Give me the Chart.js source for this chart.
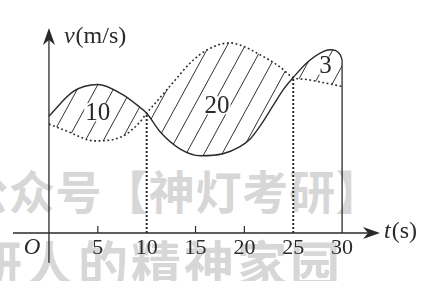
<!DOCTYPE html>
<html><head><meta charset="utf-8">
<script src="https://cdn.jsdelivr.net/npm/chart.js@4"></script>
<style>
html,body{margin:0;padding:0;background:#fff;}
#wrap{position:relative;width:421px;height:281px;overflow:hidden;background:#fff;}
.wm{position:absolute;white-space:nowrap;font-family:"Noto Sans CJK SC";font-weight:700;color:#d7d7d7;line-height:1;}
#wm1{left:-38px;top:166px;font-size:46px;letter-spacing:0.7px;}
#wm2{left:-28px;top:236px;font-size:50px;letter-spacing:3px;}
canvas{position:absolute;left:0;top:0;}
</style></head>
<body>
<div id="wrap">
<div class="wm" id="wm1">公众号【神灯考研】</div>
<div class="wm" id="wm2">研人的精神家园</div>
<canvas id="c" width="421" height="281"></canvas>
</div>
<script>
// ---- data ----
const tSolid  = [0, 2.5, 5, 7.5, 9.3, 10, 11.4, 13.4, 15.5, 17.8, 19.5, 20.6, 21.6, 22.9, 24, 25, 26.4, 28, 28.8, 29.8, 30];
const vSolid  = [11.8, 14.3, 15.0, 14.0, 12.7, 12.1, 10.2, 8.5, 7.8, 8.0, 8.7, 9.5, 10.8, 12.8, 14.5, 15.7, 17.2, 18.3, 18.5, 18.0, 17.5];
const tDotted = [0, 1.8, 4.7, 7.6, 9.3, 10, 11.4, 12.7, 14.6, 16.2, 18.5, 19.5, 21.6, 23.6, 25, 26.4, 28, 30];
const vDotted = [11.0, 10.3, 9.3, 9.8, 11.2, 12.1, 13.7, 15.2, 17.3, 18.5, 19.2, 19.0, 18.0, 16.8, 15.7, 15.5, 15.2, 14.8];
const xTickLabels = [5, 10, 15, 20, 25, 30];
const dropTimes = [10, 25];      // dotted drop lines
const endTime = 30;              // solid end line
const areaLabels = ['10', '20', '3'];

// ---- layout / style (not data) ----
const areaLabelPos = [{t: 5.0, v: 12.2}, {t: 17.2, v: 12.9}, {t: 28.3, v: 16.9}];
const ink = '#2a2a2a';
const serif = '"Liberation Serif", "Times New Roman", serif';

const vAt = t => vSolid[tSolid.indexOf(t)];
const pts = (ts, vs) => ts.map((t, i) => ({x: t, y: vs[i]}));

function hatch() {
  const w = 18, h = 33;
  const c = document.createElement('canvas');
  c.width = w; c.height = h;
  const g = c.getContext('2d');
  g.strokeStyle = '#333';
  g.lineWidth = 1;
  for (const o of [-w, 0, w]) {
    g.beginPath(); g.moveTo(o, h); g.lineTo(o + w, 0); g.stroke();
  }
  return g.createPattern(c, 'repeat');
}

const datasets = [
  {data: pts(tSolid, vSolid), borderColor: ink, borderWidth: 1.4, fill: '+1', backgroundColor: hatch(),
   cubicInterpolationMode: 'monotone', pointRadius: 0},
  {data: pts(tDotted, vDotted), borderColor: ink, borderWidth: 1.6, borderDash: [1.8, 2.6], fill: false,
   cubicInterpolationMode: 'monotone', pointRadius: 0},
  ...dropTimes.map(t => ({data: [{x: t, y: 0}, {x: t, y: vAt(t)}], borderColor: ink, borderWidth: 2,
   borderDash: [2, 2], fill: false, pointRadius: 0})),
  {data: [{x: endTime, y: 0}, {x: endTime, y: vAt(endTime)}], borderColor: ink, borderWidth: 1.3, fill: false, pointRadius: 0}
];

function arrowHead(ctx, x, y, dir) {
  ctx.save();
  ctx.translate(x, y);
  if (dir === 'up') ctx.rotate(-Math.PI / 2);
  ctx.beginPath();
  ctx.moveTo(0, 0);
  ctx.lineTo(-17, -6);
  ctx.lineTo(-12, 0);
  ctx.lineTo(-17, 6);
  ctx.closePath();
  ctx.fill();
  ctx.restore();
}

const overlay = {
  id: 'overlay',
  afterDraw(chart) {
    const {ctx} = chart;
    const x = chart.scales.x, y = chart.scales.y;
    const x0 = x.getPixelForValue(0), y0 = y.getPixelForValue(0);
    ctx.save();
    ctx.strokeStyle = ink; ctx.fillStyle = ink; ctx.lineWidth = 1.3;
    ctx.beginPath(); ctx.moveTo(x.left, y0); ctx.lineTo(x.right - 12, y0); ctx.stroke();
    ctx.beginPath(); ctx.moveTo(x0, y.getPixelForValue(-3)); ctx.lineTo(x0, y.top + 12); ctx.stroke();
    arrowHead(ctx, x.right, y0, 'right');
    arrowHead(ctx, x0, y.top, 'up');
    // tick marks (not where drop lines are)
    ctx.lineWidth = 1.2;
    xTickLabels.filter(t => !dropTimes.includes(t) && t !== endTime).forEach(t => {
      const px = x.getPixelForValue(t);
      ctx.beginPath(); ctx.moveTo(px, y0); ctx.lineTo(px, y0 - 7); ctx.stroke();
    });
    // axis names
    ctx.textBaseline = 'middle';
    ctx.textAlign = 'left';
    ctx.font = 'italic 24px ' + serif;
    ctx.fillText('v', x0 + 15, y.top + 9);
    let wv = ctx.measureText('v').width;
    ctx.font = '24px ' + serif;
    ctx.fillText('(m/s)', x0 + 15 + wv + 1, y.top + 9);
    ctx.font = 'italic 24px ' + serif;
    ctx.fillText('t', x.right + 4, y0 - 1);
    let wt = ctx.measureText('t').width;
    ctx.font = '24px ' + serif;
    ctx.fillText('(s)', x.right + 4 + wt + 1, y0 - 1);
    ctx.textAlign = 'center';
    ctx.font = 'italic 23px ' + serif;
    ctx.fillText('O', x0 - 17, y0 + 15);
    // area labels
    ctx.font = '25px ' + serif;
    areaLabels.forEach((s, i) => {
      const px = x.getPixelForValue(areaLabelPos[i].t), py = y.getPixelForValue(areaLabelPos[i].v);
      const w = ctx.measureText(s).width;
      ctx.fillStyle = '#fff';
      ctx.fillRect(px - w / 2 - 1, py - 9, w + 2, 18);
      ctx.fillStyle = ink;
      ctx.fillText(s, px, py + 1);
    });
    ctx.restore();
  }
};

new Chart(document.getElementById('c'), {
  type: 'line',
  data: {datasets},
  options: {
    responsive: false,
    animation: false,
    events: [],
    layout: {padding: {left: 13, right: 41, top: 28, bottom: 17.6}},
    plugins: {legend: {display: false}, tooltip: {enabled: false}},
    scales: {
      x: {
        type: 'linear', min: -3.68, max: 33.88,
        grid: {display: false, drawTicks: false}, border: {display: false},
        afterBuildTicks: axis => { axis.ticks = xTickLabels.map(v => ({value: v})); },
        ticks: {padding: 2, color: ink, maxRotation: 0, autoSkip: false,
                font: {family: serif, size: 22}, callback: v => String(v)}
      },
      y: {type: 'linear', min: 0, max: 20.7, display: false}
    }
  },
  plugins: [overlay]
});
</script>
</body></html>
